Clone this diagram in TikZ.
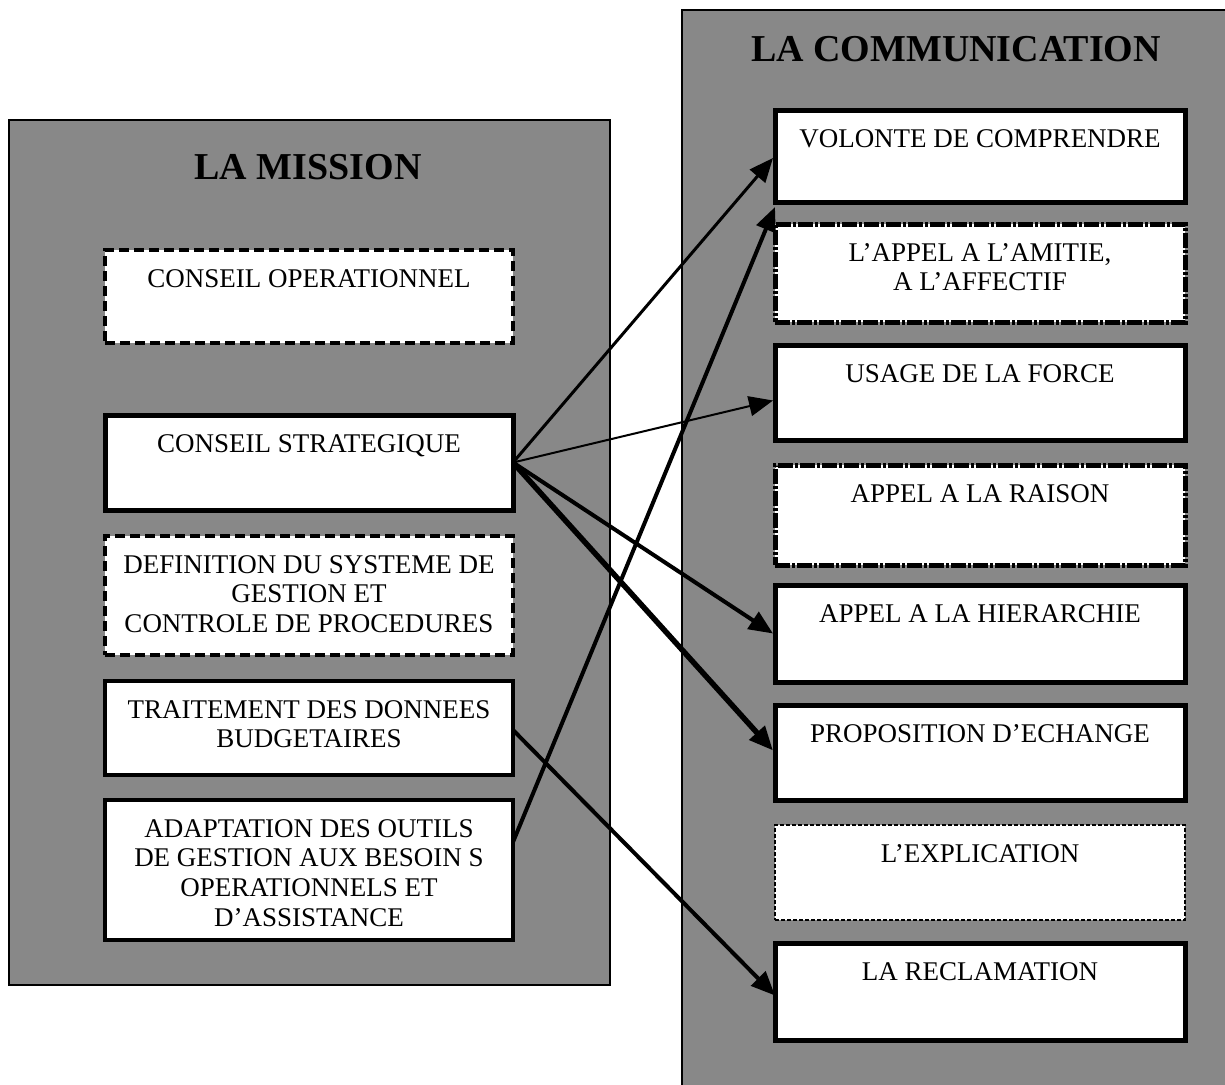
\documentclass[tikz,border=0pt]{standalone}
\usepackage{fontspec}
\setmainfont{Liberation Serif}
\usetikzlibrary{arrows.meta,calc}
\definecolor{panelgray}{RGB}{136,136,136}
\tikzset{
  panel/.style={draw=black,line width=1.5pt,fill=panelgray},
  box/.style={draw=black,fill=white,anchor=north west,inner sep=0pt,outer sep=0pt},
  solidbox/.style={box,line width=5pt},
  medbox/.style={box,line width=4pt},
  dashbox/.style={box,line width=3.5pt,dash pattern=on 10pt off 5pt},
  dotdashbox/.style={box,line width=5pt,dash pattern=on 15pt off 2pt on 3pt off 2pt},
  dotbox/.style={box,line width=2pt,dash pattern=on 4pt off 2pt},
  txt/.style={anchor=north,inner sep=0pt,align=center,font=\fontsize{27}{29.8}\selectfont},
  title/.style={anchor=base,inner sep=0pt,font=\fontsize{38}{40}\selectfont\bfseries},
  arr/.style={-{Triangle[length=24pt,width=20pt]}}
}
\begin{document}
\begin{tikzpicture}[x=1pt,y=-1pt]
\useasboundingbox (0,0) rectangle (1225,1084);
\clip (0,0) rectangle (1225,1084);
% panels
\path[panel] (9,120) rectangle (610,985);
\path[panel] (682,10) rectangle (1240,1100);
\node[title] (tmission) at (308,179) {LA MISSION};
\node[title] (tcomm) at (956,61) {LA COMMUNICATION};
% left boxes
\node[dashbox,minimum width=408pt,minimum height=93pt] (op) at (105,250) {};
\node[solidbox,minimum width=408pt,minimum height=95pt] (cs) at (105,415) {};
\node[dashbox,minimum width=408pt,minimum height=119pt] (def) at (105,536) {};
\node[medbox,minimum width=408pt,minimum height=94pt] (tr) at (105,681) {};
\node[medbox,minimum width=408pt,minimum height=140pt] (ad) at (105,800) {};
% right boxes
\node[solidbox,minimum width=410pt,minimum height=92pt] (vol) at (775,110) {};
\node[dotdashbox,minimum width=410pt,minimum height=98pt] (ami) at (775,224) {};
\node[solidbox,minimum width=410pt,minimum height=95pt] (usa) at (775,345) {};
\node[dotdashbox,minimum width=410pt,minimum height=100pt] (rai) at (775,465) {};
\node[solidbox,minimum width=410pt,minimum height=97pt] (hie) at (775,585) {};
\node[solidbox,minimum width=410pt,minimum height=95pt] (pro) at (775,705) {};
\node[dotbox,minimum width=410pt,minimum height=95pt] (exp) at (775,825) {};
\node[solidbox,minimum width=410pt,minimum height=97pt] (rec) at (775,943) {};
% texts
\node[txt] (top) at ($(op.north)+(0,19)$) {CONSEIL OPERATIONNEL};
\node[txt] (tcs) at ($(cs.north)+(0,19)$) {CONSEIL STRATEGIQUE};
\node[txt] (tdef) at ($(def.north)+(0,19)$) {DEFINITION DU SYSTEME DE\\GESTION ET\\CONTROLE DE PROCEDURES};
\node[txt] (ttr) at ($(tr.north)+(0,19)$) {TRAITEMENT DES DONNEES\\BUDGETAIRES};
\node[txt] (tad) at ($(ad.north)+(0,19)$) {ADAPTATION DES OUTILS\\DE GESTION AUX BESOIN S\\OPERATIONNELS ET\\D’ASSISTANCE};
\node[txt] (tvol) at ($(vol.north)+(0,19)$) {VOLONTE DE COMPRENDRE};
\node[txt] (tami) at ($(ami.north)+(0,19)$) {L’APPEL A L’AMITIE,\\A L’AFFECTIF};
\node[txt] (tusa) at ($(usa.north)+(0,19)$) {USAGE DE LA FORCE};
\node[txt] (trai) at ($(rai.north)+(0,19)$) {APPEL A LA RAISON};
\node[txt] (thie) at ($(hie.north)+(0,19)$) {APPEL A LA HIERARCHIE};
\node[txt] (tpro) at ($(pro.north)+(0,19)$) {PROPOSITION D’ECHANGE};
\node[txt] (texp) at ($(exp.north)+(0,19)$) {L’EXPLICATION};
\node[txt] (trec) at ($(rec.north)+(0,19)$) {LA RECLAMATION};
% arrows
\draw[arr,line width=3pt] (cs.east) -- ($(vol.west)+(-2,2)$);
\draw[arr,line width=2pt] (cs.east) -- ($(usa.west)+(-2,8)$);
\draw[arr,line width=4pt] (cs.east) -- ($(hie.west)+(-2,0)$);
\draw[arr,line width=5.5pt] (cs.east) -- ($(pro.west)+(-2,-2)$);
\draw[arr,line width=4pt] ($(ad.north east)!0.3!(ad.south east)$) -- ($(vol.south west)+(0,5)$);
\draw[arr,line width=4pt] ($(tr.east)+(0,2)$) -- ($(rec.west)+(0,4)$);
\end{tikzpicture}
\end{document}
